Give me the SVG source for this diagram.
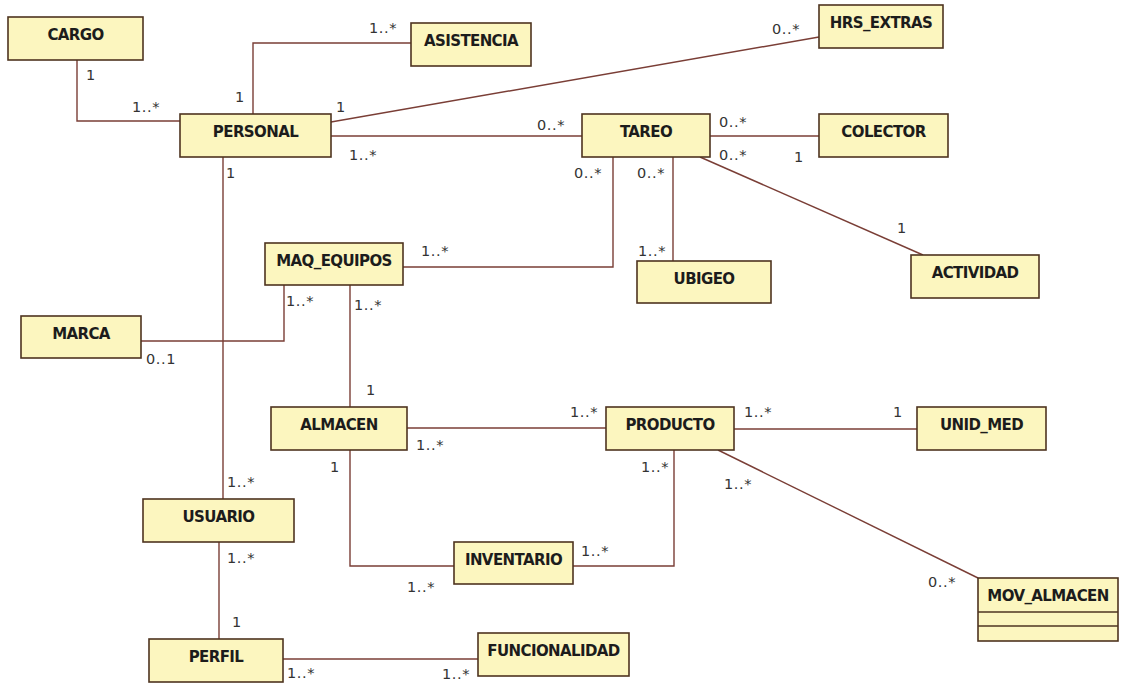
<svg xmlns="http://www.w3.org/2000/svg" width="1128" height="684" viewBox="0 0 1128 684">
  <style>
    .box { fill: #fcf6bf; stroke: #4e3420; stroke-width: 1.6; }
    .sep { stroke: #4e3420; stroke-width: 1.4; }
    .name { font-family: "DejaVu Sans", Verdana, sans-serif; font-weight: bold; font-size: 15px; letter-spacing: -0.6px; fill: #1c1c1c; text-anchor: middle; }
    .link { fill: none; stroke: #7a3e36; stroke-width: 1.4; }
    .mult { font-family: "DejaVu Sans", Verdana, sans-serif; font-size: 14.5px; fill: #333; letter-spacing: 0.6px; }
  </style>
  <rect width="1128" height="684" fill="#ffffff"/>

  <!-- associations -->
  <g id="connectors">
    <polyline class="link" points="77,60 77,121 180,121"/>
    <polyline class="link" points="253,114 253,43 411,43"/>
    <line class="link" x1="331" y1="122" x2="819" y2="37"/>
    <line class="link" x1="331" y1="136" x2="582" y2="136"/>
    <line class="link" x1="710" y1="136" x2="819" y2="136"/>
    <line class="link" x1="700" y1="157" x2="923" y2="255"/>
    <line class="link" x1="673" y1="157" x2="673" y2="261"/>
    <polyline class="link" points="613,157 613,267 403,267"/>
    <polyline class="link" points="284,285 284,341 141,341"/>
    <line class="link" x1="223" y1="157" x2="223" y2="499"/>
    <line class="link" x1="350" y1="285" x2="350" y2="407"/>
    <line class="link" x1="407" y1="428" x2="606" y2="428"/>
    <line class="link" x1="734" y1="429" x2="917" y2="429"/>
    <polyline class="link" points="350,450 350,566 454,566"/>
    <polyline class="link" points="573,566 674,566 674,450"/>
    <line class="link" x1="718" y1="450" x2="978" y2="578"/>
    <line class="link" x1="219" y1="542" x2="219" y2="639"/>
    <line class="link" x1="283" y1="659" x2="478" y2="659"/>

    <!-- multiplicities -->
    <text class="mult" x="86" y="80">1</text>
    <text class="mult" x="132" y="112">1..*</text>
    <text class="mult" x="235" y="102">1</text>
    <text class="mult" x="369" y="33">1..*</text>
    <text class="mult" x="336" y="112">1</text>
    <text class="mult" x="772" y="34">0..*</text>
    <text class="mult" x="349" y="160">1..*</text>
    <text class="mult" x="537" y="130">0..*</text>
    <text class="mult" x="719" y="127">0..*</text>
    <text class="mult" x="794" y="162">1</text>
    <text class="mult" x="719" y="160">0..*</text>
    <text class="mult" x="897" y="233">1</text>
    <text class="mult" x="574" y="178">0..*</text>
    <text class="mult" x="637" y="178">0..*</text>
    <text class="mult" x="638" y="256">1..*</text>
    <text class="mult" x="421" y="256">1..*</text>
    <text class="mult" x="286" y="306">1..*</text>
    <text class="mult" x="146" y="364">0..1</text>
    <text class="mult" x="226" y="178">1</text>
    <text class="mult" x="227" y="487">1..*</text>
    <text class="mult" x="354" y="310">1..*</text>
    <text class="mult" x="366" y="395">1</text>
    <text class="mult" x="416" y="450">1..*</text>
    <text class="mult" x="570" y="417">1..*</text>
    <text class="mult" x="744" y="417">1..*</text>
    <text class="mult" x="893" y="417">1</text>
    <text class="mult" x="330" y="472">1</text>
    <text class="mult" x="407" y="592">1..*</text>
    <text class="mult" x="581" y="556">1..*</text>
    <text class="mult" x="641" y="472">1..*</text>
    <text class="mult" x="724" y="489">1..*</text>
    <text class="mult" x="928" y="587">0..*</text>
    <text class="mult" x="227" y="563">1..*</text>
    <text class="mult" x="232" y="627">1</text>
    <text class="mult" x="287" y="678">1..*</text>
    <text class="mult" x="442" y="679">1..*</text>
  </g>

  <!-- classes -->
  <g id="cargo"><rect class="box" x="8" y="17" width="135" height="43"/><text class="name" x="75.5" y="40">CARGO</text></g>
  <g id="personal"><rect class="box" x="180" y="114" width="151" height="43"/><text class="name" x="255.5" y="137">PERSONAL</text></g>
  <g id="asistencia"><rect class="box" x="411" y="23" width="120" height="43"/><text class="name" x="471" y="46">ASISTENCIA</text></g>
  <g id="hrs_extras"><rect class="box" x="819" y="5" width="124" height="43"/><text class="name" x="881" y="28">HRS_EXTRAS</text></g>
  <g id="tareo"><rect class="box" x="582" y="114" width="128" height="43"/><text class="name" x="646" y="137">TAREO</text></g>
  <g id="colector"><rect class="box" x="819" y="114" width="129" height="43"/><text class="name" x="883.5" y="137">COLECTOR</text></g>
  <g id="maq_equipos"><rect class="box" x="265" y="243" width="138" height="42"/><text class="name" x="334" y="266">MAQ_EQUIPOS</text></g>
  <g id="ubigeo"><rect class="box" x="637" y="261" width="134" height="42"/><text class="name" x="704" y="284">UBIGEO</text></g>
  <g id="actividad"><rect class="box" x="911" y="255" width="128" height="43"/><text class="name" x="975" y="278">ACTIVIDAD</text></g>
  <g id="marca"><rect class="box" x="21" y="316" width="120" height="42"/><text class="name" x="81" y="339">MARCA</text></g>
  <g id="almacen"><rect class="box" x="271" y="407" width="136" height="43"/><text class="name" x="339" y="430">ALMACEN</text></g>
  <g id="producto"><rect class="box" x="606" y="407" width="128" height="43"/><text class="name" x="670" y="430">PRODUCTO</text></g>
  <g id="unid_med"><rect class="box" x="917" y="407" width="129" height="43"/><text class="name" x="981.5" y="430">UNID_MED</text></g>
  <g id="usuario"><rect class="box" x="143" y="499" width="151" height="43"/><text class="name" x="218.5" y="522">USUARIO</text></g>
  <g id="inventario"><rect class="box" x="454" y="542" width="119" height="42"/><text class="name" x="513.5" y="565">INVENTARIO</text></g>
  <g id="perfil"><rect class="box" x="149" y="639" width="134" height="43"/><text class="name" x="216" y="662">PERFIL</text></g>
  <g id="funcionalidad"><rect class="box" x="478" y="633" width="151" height="43"/><text class="name" x="553.5" y="656">FUNCIONALIDAD</text></g>
  <g id="mov_almacen">
    <rect class="box" x="978" y="578" width="140" height="63"/>
    <line class="sep" x1="978" y1="612" x2="1118" y2="612"/>
    <line class="sep" x1="978" y1="626" x2="1118" y2="626"/>
    <text class="name" x="1048" y="601">MOV_ALMACEN</text>
  </g>
</svg>
